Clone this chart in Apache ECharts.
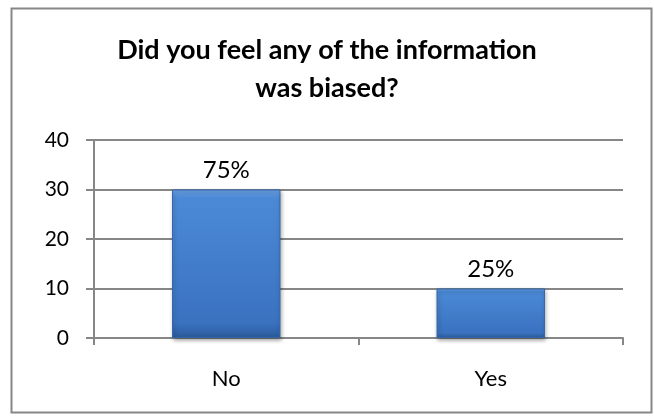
<!DOCTYPE html>
<html>
<head>
<meta charset="utf-8">
<script src="https://cdn.jsdelivr.net/npm/echarts@6/dist/echarts.min.js"></script>
<style>
  html, body { margin: 0; padding: 0; background: #fff; }
  #chart { width: 654px; height: 420px; }
</style>
</head>
<body>
<div id="chart"></div>
<script>
const categories = ['No', 'Yes']
const values = [30, 10]
const valueLabels = ['75%', '25%']
const yTicks = [0, 10, 20, 30, 40]

const chart = echarts.init(document.getElementById('chart'))
const gray = '#878787'
const font = 'Lato, "Open Sans", sans-serif'

chart.setOption({
  animation: false,
  title: {
    text: 'Did you feel any of the information\nwas biased?',
    left: 'center',
    top: 26,
    textStyle: {
      fontFamily: font,
      fontWeight: 'bold',
      fontSize: 27,
      lineHeight: 38,
      color: '#000'
    }
  },
  graphic: [{
    type: 'rect',
    shape: { x: 11.5, y: 8.5, width: 640, height: 404 },
    style: { fill: 'none', stroke: gray, lineWidth: 2 },
    silent: true,
    z: -1
  }],
  grid: { left: 94, right: 31, top: 140, bottom: 82 },
  xAxis: {
    type: 'category',
    data: categories,
    axisLine: { lineStyle: { color: gray, width: 2 } },
    axisTick: { show: true, length: 7, lineStyle: { color: gray, width: 2 } },
    axisLabel: { color: '#000', fontFamily: font, fontSize: 22, margin: 30 }
  },
  yAxis: {
    type: 'value',
    min: yTicks[0],
    max: yTicks[yTicks.length - 1],
    interval: 10,
    axisLine: { show: true, lineStyle: { color: gray, width: 2 } },
    axisTick: { show: true, length: 8, lineStyle: { color: gray, width: 2 } },
    splitLine: { lineStyle: { color: gray, width: 2 } },
    axisLabel: { color: '#000', fontFamily: font, fontSize: 21, margin: 25 }
  },
  series: [{
    type: 'bar',
    data: values,
    barWidth: '41%',
    itemStyle: {
      color: new echarts.graphic.LinearGradient(0, 0, 0, 1, [
        { offset: 0, color: '#6aa3e6' },
        { offset: 0.06, color: '#4b89d6' },
        { offset: 0.9, color: '#3a72c0' },
        { offset: 1, color: '#2b5a9a' }
      ]),
      borderColor: '#3566a8',
      borderWidth: 1,
      shadowColor: 'rgba(0,0,0,0.35)',
      shadowBlur: 4,
      shadowOffsetX: 1,
      shadowOffsetY: 2
    },
    label: {
      show: true,
      position: 'top',
      distance: 7,
      color: '#000',
      fontFamily: font,
      fontSize: 24,
      formatter: p => valueLabels[p.dataIndex]
    }
  }]
})
</script>
</body>
</html>
